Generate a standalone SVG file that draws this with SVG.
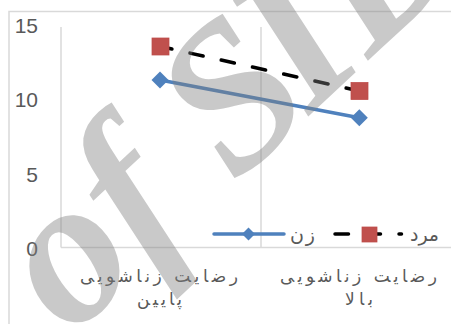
<svg xmlns="http://www.w3.org/2000/svg" width="451" height="324" viewBox="0 0 451 324">
<style>
.grid{stroke:#d9d9d9;stroke-width:1.5;fill:none}
.ax{font-family:"Liberation Sans",Arial,sans-serif;font-size:21px;fill:#595959;text-anchor:end}
.cat{font-family:"DejaVu Sans",sans-serif;font-size:17px;fill:#595959;text-anchor:middle}
.leg{font-family:"DejaVu Sans",sans-serif;font-size:19px;fill:#595959}
.blue{stroke:#4f81bd;stroke-width:3.5;fill:none;stroke-linecap:round}
.dash{stroke:#000;stroke-width:3.5;fill:none;stroke-linecap:round;stroke-dasharray:13.5 18.5}
.dia{fill:#4f81bd}
.sq{fill:#c0504d;stroke:#be4b48;stroke-width:0.75}
.wm{font-family:"Liberation Serif","Times New Roman",serif;font-style:italic;font-weight:bold;font-size:208px;fill:#7f7f7f;fill-opacity:0.42}
</style>
<rect width="451" height="324" fill="#fff"/>
<g id="frame">
<rect class="grid" x="9" y="11.5" width="460" height="330"/>
<line class="grid" x1="61" y1="27" x2="61" y2="247.5"/>
<line class="grid" x1="261" y1="27" x2="261" y2="247.5"/>
<line class="grid" x1="61" y1="247.5" x2="461" y2="247.5"/>
</g>
<g id="axis-y">
<text class="ax" x="38" y="33">15</text>
<text class="ax" x="38" y="107">10</text>
<text class="ax" x="38" y="181.5">5</text>
<text class="ax" x="38" y="255.5">0</text>
</g>
<g id="axis-x">
<text class="cat" x="159" y="282" textLength="158" lengthAdjust="spacing">رضایت زناشویی</text>
<text class="cat" x="159.5" y="305" textLength="45" lengthAdjust="spacing">پایین</text>
<text class="cat" x="358.5" y="282" textLength="157" lengthAdjust="spacing">رضایت زناشویی</text>
<text class="cat" x="359" y="305" textLength="28" lengthAdjust="spacing">بالا</text>
</g>
<g id="connectors">
<line class="blue" x1="160" y1="80" x2="359.3" y2="117.7"/>
<line class="dash" x1="160.5" y1="46.5" x2="359.5" y2="91" stroke-dashoffset="1.8"/>
</g>
<g id="series-zan">
<path class="dia" d="M160 71.5 L168.5 80 L160 88.5 L151.5 80 Z"/>
<path class="dia" d="M359.3 109.2 L367.8 117.7 L359.3 126.2 L350.8 117.7 Z"/>
</g>
<g id="series-mard">
<rect class="sq" x="152" y="38" width="17" height="17"/>
<rect class="sq" x="351" y="82.5" width="17" height="17"/>
</g>
<g id="legend">
<line class="blue" x1="214" y1="234" x2="284" y2="234"/>
<path class="dia" d="M248.5 227.5 L255 234 L248.5 240.5 L242 234 Z"/>
<text class="leg" x="290" y="241" textLength="25" lengthAdjust="spacing">زن</text>
<line class="dash" x1="335" y1="234" x2="401.5" y2="234"/>
<rect class="sq" x="362" y="227" width="15" height="15"/>
<text class="leg" x="410" y="241" textLength="29" lengthAdjust="spacing">مرد</text>
</g>
<g id="watermark">
<text class="wm" x="70.6" y="337.9" transform="rotate(-43 70.6 337.9)">of S<tspan dx="-14">ID</tspan></text>
</g>
</svg>
